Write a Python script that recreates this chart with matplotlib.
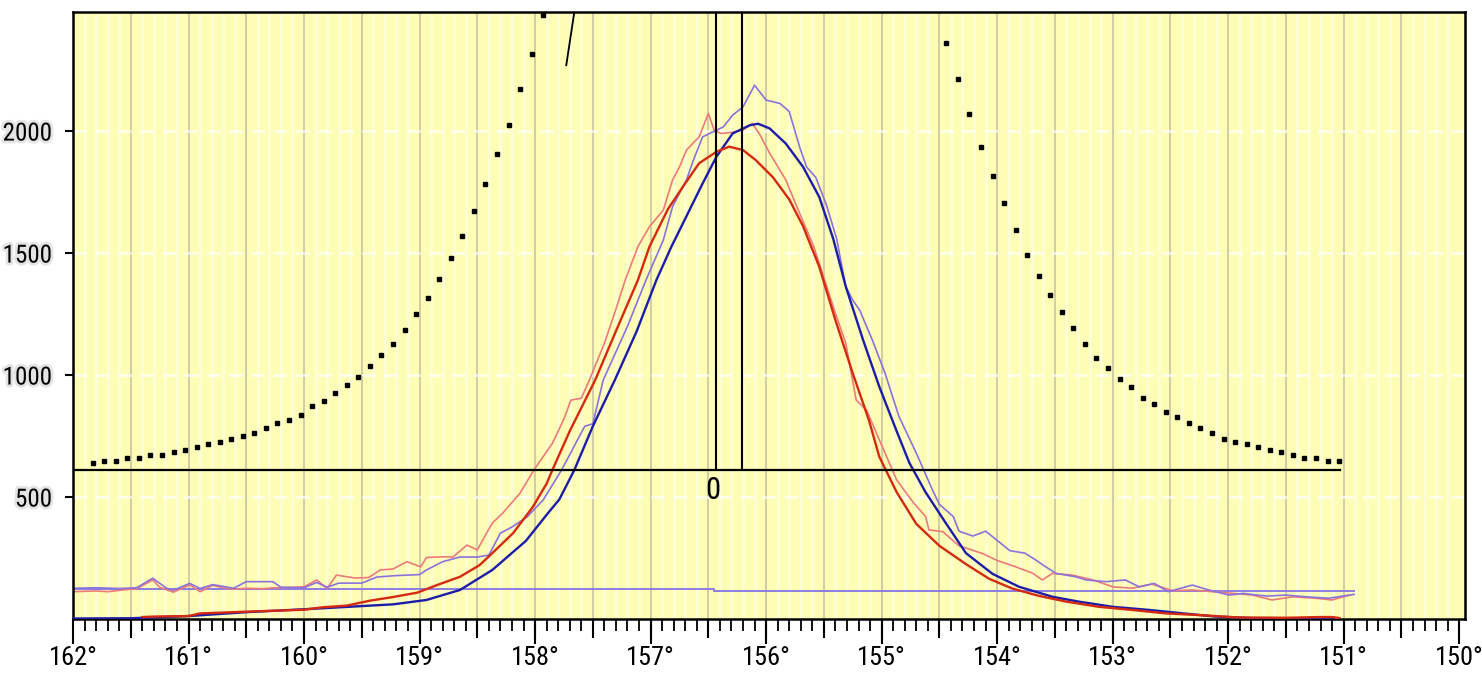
import numpy as np
import matplotlib
matplotlib.use('Agg')
import matplotlib.pyplot as plt
import matplotlib.patheffects as pe

plt.rcParams['font.family'] = ['Roboto Condensed', 'DejaVu Sans']
plt.rcParams['font.stretch'] = 'condensed'

# ---- data (x in degrees, y in counts) ----
red_x = [161.4,161.3,161.0,160.9,160.5,160.0,159.84,159.63,159.43,159.23,159.02,158.85,158.65,158.48,158.37,
         158.19,158.02,157.9,157.85,157.7,157.48,157.3,157.11,157.01,156.85,156.72,156.58,156.43,156.32,156.2,
         156.09,155.94,155.8,155.68,155.54,155.4,155.25,155.11,155.02,154.87,154.7,154.5,154.27,154.07,153.87,
         153.64,153.4,153.12,152.83,152.54,152.25,151.9,151.5,151.2,151.1,151.04]
red_y = [8,10,12,23,30,38,48,55,75,90,108,139,173,221,270,
         352,459,555,611,770,979,1180,1389,1526,1680,1772,1868,1915,1936,1922,
         1881,1810,1720,1610,1444,1225,1007,815,665,520,390,300,225,165,125,
         95,71,50,37,23,16,6,5,8,8,4]

blue_x = [162.0,161.5,161.0,160.5,160.0,159.84,159.5,159.23,158.94,158.65,158.37,158.08,157.89,157.79,157.66,
          157.5,157.31,157.12,156.95,156.82,156.68,156.55,156.43,156.29,156.14,156.07,155.97,155.83,155.68,155.54,
          155.42,155.31,155.16,155.02,154.87,154.76,154.62,154.44,154.27,154.04,153.81,153.52,153.29,153.0,152.68,
          152.39,152.11,151.8,151.4,151.04]
blue_y = [2,3,12,28,40,44,53,60,78,119,201,320,433,490,611,
          790,979,1180,1389,1526,1660,1785,1895,1990,2024,2030,2011,1949,1853,1730,
          1560,1362,1143,952,770,640,520,390,270,185,132,91,71,50,37,
          23,10,4,3,3]

pink_x = [162.0,161.8,161.7,161.55,161.45,161.31,161.25,161.13,160.99,160.9,160.79,160.7,160.61,160.5,160.35,
          160.27,160.1,160.0,159.89,159.8,159.72,159.56,159.44,159.34,159.23,159.11,158.99,158.94,158.8,158.71,
          158.59,158.5,158.42,158.37,158.28,158.13,158.01,157.85,157.75,157.69,157.6,157.53,157.4,157.3,157.22,
          157.11,157.01,156.89,156.81,156.75,156.69,156.58,156.5,156.45,156.39,156.29,156.2,156.12,156.06,155.97,
          155.83,155.71,155.59,155.54,155.4,155.31,155.22,155.13,155.02,154.87,154.73,154.62,154.59,154.47,154.33,
          154.13,154.0,153.84,153.69,153.61,153.52,153.35,153.17,153.0,152.83,152.66,152.48,152.31,152.14,151.96,
          151.79,151.62,151.44,151.24,151.1,150.95]
pink_y = [112,115,112,120,124,160,130,110,140,112,138,128,122,126,124,
          128,130,132,160,125,180,168,170,201,205,235,214,252,255,254,
          303,283,352,393,434,516,611,720,820,897,905,979,1130,1270,1389,
          1526,1608,1676,1799,1853,1922,1976,2072,2004,1990,1995,2004,2031,1990,1910,
          1800,1663,1530,1458,1253,1130,897,856,734,570,480,420,365,358,300,
          269,240,214,187,160,187,180,160,132,126,143,116,119,112,105,
          98,78,91,85,78,98]

purple_x = [162.0,161.8,161.6,161.45,161.31,161.19,161.13,160.99,160.9,160.79,160.61,160.5,160.27,160.2,160.0,
            159.89,159.8,159.7,159.5,159.37,159.2,159.0,158.94,158.8,158.65,158.5,158.4,158.3,158.2,158.07,
            157.93,157.77,157.57,157.5,157.41,157.2,157.04,156.89,156.81,156.69,156.63,156.55,156.49,156.37,156.29,
            156.2,156.1,156.0,155.88,155.8,155.71,155.65,155.57,155.48,155.39,155.31,155.25,155.19,155.08,154.97,
            154.85,154.7,154.56,154.5,154.38,154.33,154.21,154.1,154.02,153.89,153.76,153.66,153.58,153.49,153.32,
            153.23,153.06,152.89,152.77,152.64,152.52,152.31,152.17,151.99,151.87,151.67,151.5,151.33,151.13,150.91]
purple_y = [126,128,125,128,167,126,118,146,125,141,126,153,153,130,128,
            150,130,147,147,172,178,182,201,235,254,254,262,352,377,418,
            488,611,790,800,979,1200,1389,1553,1690,1799,1880,1976,1990,2017,2065,
            2099,2188,2127,2113,2080,1935,1853,1810,1700,1560,1362,1307,1266,1143,1007,
            830,680,529,470,420,360,340,360,330,280,270,240,214,187,173,
            160,153,160,132,146,112,139,119,98,105,94,98,91,85,101]

# flat background level
base_x = [162.0, 156.45, 156.45, 150.91]
base_y = [122, 122, 114, 114]

# dotted reference curve
dots_left_x = [161.83,161.73,161.63,161.53,161.43,161.33,161.23,161.13,161.03,160.93,
               160.83,160.73,160.63,160.53,160.43,160.33,160.23,160.13,160.03,159.93,
               159.83,159.73,159.63,159.53,159.43,159.33,159.23,159.13,159.03,158.93,
               158.83,158.73,158.63,158.53,158.43,158.33,158.23,158.13,158.03,157.93]
dots_left_y = [640,647,649,659,661,672,673,683,694,706,716,727,738,750,761,783,804,816,837,872,
               893,926,959,993,1037,1081,1127,1183,1249,1314,1392,1481,1570,1671,1781,1904,2026,2171,2315,2475]
dots_right_x = [154.44,154.34,154.24,154.14,154.04,153.94,153.84,153.74,153.64,153.54,
                153.44,153.34,153.24,153.14,153.04,152.94,152.84,152.74,152.64,152.54,
                152.44,152.34,152.24,152.14,152.04,151.94,151.84,151.74,151.64,151.54,
                151.44,151.34,151.24,151.14,151.04]
dots_right_y = [2359,2214,2071,1936,1815,1705,1593,1492,1404,1326,1259,1194,1127,1071,1027,984,949,904,882,848,
                828,804,783,761,738,727,716,705,694,683,672,661,661,649,649]

seg_x = [157.73, 157.65]
seg_y = [2270, 2520]

level = 612
level_x = [162.0, 151.03]
markers_x = [156.43, 156.21]

x_ticks = list(range(150, 163))
y_ticks = [500, 1000, 1500, 2000]

# ---- figure ----
W, H = 1482, 677
fig = plt.figure(figsize=(W / 100, H / 100), dpi=100)
ax = fig.add_axes([73 / W, 1 - 619 / H, (1465 - 73) / W, (619 - 12) / H])
ax.set_xlim(162, 149.95)
ax.set_ylim(0, 2488)
ax.set_facecolor('#fdfdb6')

# pale stripes + grid
fine = np.round(np.arange(150.0, 162.01, 0.1), 1)
fine = [v for v in fine if abs(v * 2 - round(v * 2)) > 1e-6]
ax.vlines(fine, 0, 2488, colors='white', lw=2.2, alpha=0.4, zorder=0)
ax.vlines(np.arange(150.5, 162, 0.5), 0, 2488, colors='#c9c5a4', lw=1.2, zorder=0.5)
ax.hlines(y_ticks, 162, 149.95, colors='white', lw=2, linestyles=(0, (5, 3)), alpha=0.7, zorder=0.6)

# curves
ax.plot(base_x, base_y, color='#8c7ce0', lw=1.4, zorder=2)
ax.plot(pink_x, pink_y, color='#ec7a7a', lw=1.2, zorder=2)
ax.plot(purple_x, purple_y, color='#8a72dc', lw=1.2, zorder=2)
ax.plot(blue_x, blue_y, color='#1c1ca8', lw=1.7, zorder=3)
ax.plot(red_x, red_y, color='#d42a10', lw=1.7, zorder=3)

# reference lines
ax.plot(level_x, [level, level], color='black', lw=1.6, zorder=4)
ax.vlines(markers_x, level, 2488, colors='black', lw=1.5, zorder=4)
ax.plot(seg_x, seg_y, color='black', lw=1.3, zorder=4)
ax.plot(dots_left_x, dots_left_y, 's', color='black', ms=2.8, zorder=5)
ax.plot(dots_right_x, dots_right_y, 's', color='black', ms=2.8, zorder=5)
ax.text(156.46, 528, '0', fontsize=22, ha='center', va='center', zorder=5)

# axes
for s in ax.spines.values():
    s.set_linewidth(1.8)
    s.set_color('black')

ax.set_xticks(x_ticks)
ax.set_xticklabels(['%d°' % v for v in x_ticks])
ax.set_xticks(np.arange(150.0, 162.01, 0.1), minor=True)
ax.tick_params(axis='x', which='major', length=18, width=1.5, pad=1.5, labelsize=19, direction='out')
ax.tick_params(axis='x', which='minor', length=8.5, width=1.3, direction='out')

sec = ax.secondary_xaxis('bottom')
sec.set_xticks(np.arange(150.5, 162, 0.5))
sec.set_xticklabels([])
sec.tick_params(length=14, width=1.5)
sec.spines['bottom'].set_visible(False)

ax.set_yticks(y_ticks)
ax.set_yticklabels([str(v) for v in y_ticks])
ax.tick_params(axis='y', length=6, width=1.5, pad=9, labelsize=18)
for lab in ax.get_yticklabels():
    lab.set_path_effects([pe.withStroke(linewidth=4, foreground='#e4e4e4')])

fig.savefig('out.png', dpi=100, facecolor='white')
